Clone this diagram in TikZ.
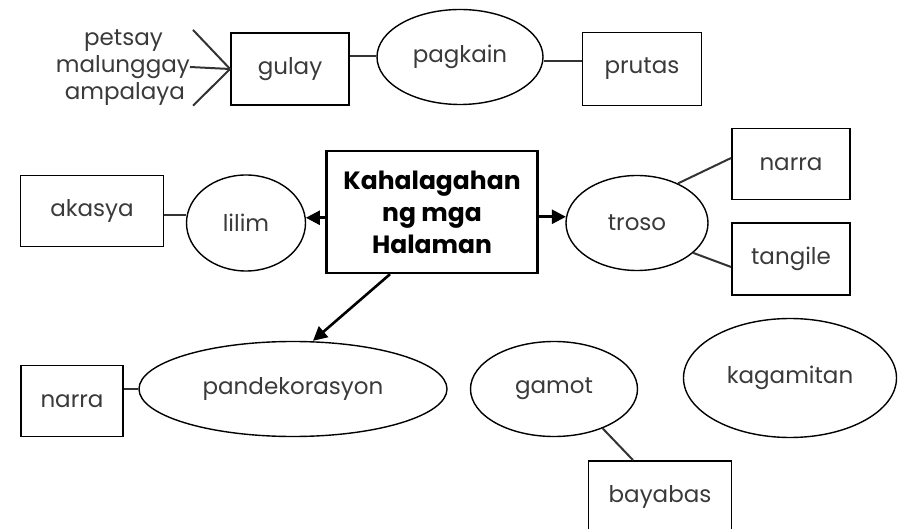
\documentclass[tikz,border=0pt]{standalone}
\usepackage{fontspec}
\setmainfont{Poppins}
\usetikzlibrary{shapes.geometric,arrows.meta}
\definecolor{ink}{HTML}{3A3A3A}
\tikzset{
  box/.style={draw, line width=1.8pt, inner sep=0pt, text=ink},
  oval/.style={draw, ellipse, line width=1.4pt, inner sep=0pt, text=ink},
  word/.style={inner sep=0pt, text=ink},
  link/.style={line width=2pt, draw=black!80},
  pointer/.style={line width=2.6pt, -{Triangle[length=14pt,width=14pt]}}
}
\begin{document}
\begin{tikzpicture}[x=1pt, y=-1pt, font=\fontsize{23}{27}\selectfont]
  \useasboundingbox (0,0) rectangle (908,529);

  \node[word, anchor=east] (petsay) at (163,41) {petsay};
  \node[word, anchor=east] (malunggay) at (190,67) {malunggay};
  \node[word, anchor=east] (ampalaya) at (185,94) {ampalaya};
  \node[box, minimum width=118pt, minimum height=72pt] (gulay) at (290,69) {gulay};
  \node[oval, minimum width=166pt, minimum height=95pt] (pagkain) at (460,57) {pagkain};
  \node[box, minimum width=119pt, minimum height=73pt] (prutas) at (642,69) {prutas};

  \node[draw, line width=2.4pt, minimum width=211pt, minimum height=122pt, align=center,
        font=\fontsize{25}{32}\selectfont\bfseries] (hub) at (432,212) {Kahalagahan\\ng mga\\Halaman};
  \node[oval, minimum width=119pt, minimum height=96pt] (lilim) at (246,223) {lilim};
  \node[box, minimum width=143pt, minimum height=71pt] (akasya) at (92,211) {akasya};
  \node[oval, minimum width=142pt, minimum height=95pt] (troso) at (637,223) {troso};
  \node[box, minimum width=118pt, minimum height=71pt] (narraA) at (791,164) {narra};
  \node[box, minimum width=118pt, minimum height=72pt] (tangile) at (791,259) {tangile};

  \node[oval, minimum width=308pt, minimum height=95pt] (pandeko) at (293,389) {pandekorasyon};
  \node[box, minimum width=102pt, minimum height=71pt] (narraB) at (72,401) {narra};
  \node[oval, minimum width=167pt, minimum height=95pt] (gamot) at (554,389) {gamot};
  \node[oval, minimum width=213pt, minimum height=119pt] (kagamitan) at (790,378) {kagamitan};
  \node[box, minimum width=143pt, minimum height=72pt] (bayabas) at (660,497) {bayabas};

  \draw[link] ([xshift=3pt]malunggay.east |- petsay.north) -- (gulay.west);
  \draw[link] (malunggay.east) -- (gulay.west);
  \draw[link] ([xshift=3pt]malunggay.east |- ampalaya.south) -- (gulay.west);
  \draw[link] ([yshift=13pt]gulay.east) -- ([yshift=13pt]gulay.east -| pagkain.west);
  \draw[link] ([yshift=-4pt]pagkain.east) -- ([yshift=-4pt]pagkain.east -| prutas.west);

  \draw[pointer] (hub.west |- lilim.5) -- (lilim.5);
  \draw[pointer] (hub.east |- troso.175) -- (troso.175);
  \draw[pointer] ([xshift=-42pt]hub.south) -- ([xshift=20pt]pandeko.north);

  \draw[link] ([yshift=-4pt]akasya.east) -- ([yshift=-4pt]akasya.east -| lilim.west);
  \draw[link] (troso.44) -- ([yshift=6pt]narraA.west);
  \draw[link] (troso.-28) -- ([yshift=-8pt]tangile.west);
  \draw[link] (narraB.east |- pandeko.west) -- (pandeko.west);
  \draw[link] (gamot.-39) -- ([xshift=-27pt]bayabas.north);
\end{tikzpicture}
\end{document}
